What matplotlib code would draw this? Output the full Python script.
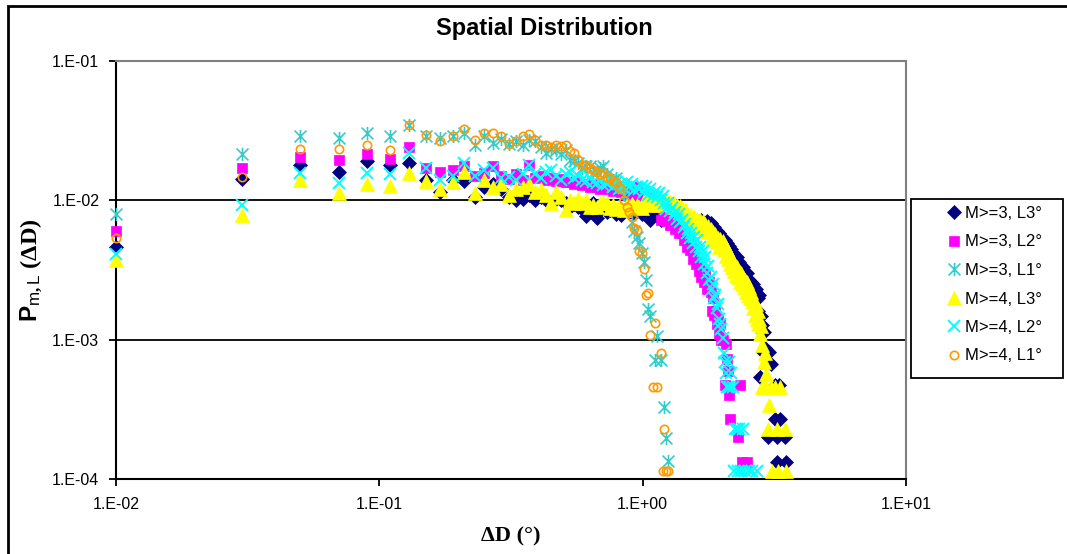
import numpy as np
import matplotlib
matplotlib.use("Agg")
import matplotlib.pyplot as plt
from matplotlib.path import Path
from matplotlib.patches import Rectangle
from matplotlib.ticker import FixedLocator, NullLocator

# P values in units of 1e-3.  "dense" lists hold one value per 0.02 deg bin,
# starting at the bin centred on 0.01 deg; the sparse tails are given as x / value pairs.
bin_start = 0.01
bin_width = 0.02

m3_l3 = [4.6, 14.3, 17.8, 16.1, 19.0, 17.9, 18.5, 14.0, 11.5, 14.0,
         13.8, 10.5, 12.5, 13.0, 12.0, 10.5, 10.0, 10.2, 11.0, 10.0,
         10.5, 10.0, 9.8, 10.2, 10.0, 9.5, 9.0, 9.4, 9.0, 8.6,
         7.7, 8.8, 9.6, 7.5, 8.5, 9.0, 8.2, 8.5, 8.5, 8.0,
         8.6, 7.9, 8.5, 8.5, 8.2, 8.8, 8.0, 8.4, 8.6, 8.0,
         8.4, 8.6, 8.0, 7.2, 8.2, 8.5, 7.8, 8.3, 7.2, 8.0,
         8.2, 7.6, 7.9, 8.1, 7.5, 7.8, 7.4, 7.7, 7.3, 7.6,
         7.2, 7.5, 7.0, 7.3, 6.9, 7.1, 6.8, 7.0, 6.6, 6.9,
         6.5, 6.9, 6.3, 7.2, 6.4, 6.8, 6.0, 7.1, 6.9, 6.3,
         6.9, 6.1, 5.6, 6.4, 5.4, 6.0, 5.1, 5.8, 4.9, 5.5,
         5.3, 4.6, 5.2, 4.4, 4.9, 4.1, 4.7, 4.2, 4.5, 3.8,
         4.2, 3.7, 4.0, 3.4, 3.9, 3.3, 3.6, 3.1, 3.4, 3.0,
         3.3, 2.8, 3.0, 2.6, 3.0, 2.5, 2.7, 2.3, 2.6, 2.2,
         2.4, 2.5, 2.3, 2.2, 2.3, 2.1, 2.0, 1.6, 2.1, 0.54]
m3_l3_tail_x = [2.81, 2.83, 2.85, 2.87, 2.89, 2.91, 2.95, 2.99, 3.03, 3.07,
                3.17, 3.19, 3.23, 3.25, 3.29, 3.31, 3.47, 3.51]
m3_l3_tail = [1.47, 1.13, 1.27, 0.82, 1.13, 0.87, 0.8, 0.2, 0.82, 0.67,
              0.47, 0.27, 0.2, 0.133, 0.47, 0.27, 0.2, 0.133]

m3_l2 = [6.05, 17.1, 20.4, 19.5, 21.5, 19.7, 24.3, 17.0, 16.0, 16.5,
         17.7, 15.0, 15.7, 17.7, 15.0, 14.3, 15.5, 14.0, 17.8, 14.5,
         15.0, 14.0, 14.5, 13.8, 14.3, 13.6, 13.5, 13.0, 13.5, 12.8,
         13.0, 12.5, 13.2, 12.5, 12.0, 12.6, 12.3, 12.0, 11.6, 12.0,
         11.8, 11.5, 11.6, 11.0, 11.3, 11.0, 11.1, 12.5, 10.6, 11.0,
         10.8, 10.5, 10.0, 10.2, 10.6, 9.6, 9.0, 9.3, 7.2, 8.6,
         8.0, 7.1, 7.8, 6.6, 7.0, 7.3, 6.2, 6.5, 5.8, 6.0,
         5.8, 5.2, 5.5, 4.6, 4.9, 4.4, 4.6, 3.8, 4.2, 3.5,
         3.6, 3.1, 3.3, 2.8, 3.0, 2.6, 2.9, 2.3, 2.4, 2.6,
         2.2, 1.6, 2.0, 1.5, 1.6, 1.3, 1.4, 1.1, 1.3, 1.0]
m3_l2_tail_x = [2.01, 2.05, 2.07, 2.09, 2.11, 2.13, 2.15, 2.31, 2.35, 2.39, 2.49]
m3_l2_tail = [1.0, 0.47, 0.93, 0.73, 0.6, 0.4, 0.27, 0.2, 0.47, 0.133, 0.133]

m3_l1 = [8.0, 21.5, 28.8, 28.0, 30.5, 29.0, 34.5, 29.0, 28.0, 29.0,
         30.5, 25.0, 29.0, 26.0, 27.5, 25.5, 26.5, 25.0, 27.0, 26.5,
         24.0, 22.0, 23.5, 23.0, 21.5, 23.0, 19.5, 19.2, 18.5, 17.0,
         17.5, 17.7, 15.6, 16.0, 17.0, 17.7, 15.5, 13.7, 14.0, 14.5,
         13.0, 12.5, 11.0, 9.5, 8.5, 7.0, 6.0, 5.5, 4.9, 4.2,
         3.6, 2.7, 1.66, 1.48]
m3_l1_tail_x = [1.11, 1.13, 1.17, 1.21, 1.23, 1.25]
m3_l1_tail = [0.71, 1.07, 0.71, 0.326, 0.196, 0.134]

m4_l3 = [3.75, 7.9, 13.9, 11.3, 13.1, 12.7, 15.8, 13.8, 12.0, 13.5,
         16.0, 11.3, 14.0, 12.5, 13.0, 11.0, 12.0, 12.5, 13.0, 11.5,
         12.0, 11.0, 9.6, 11.4, 10.5, 8.5, 10.0, 9.6, 10.2, 9.5,
         10.0, 9.0, 9.3, 9.0, 9.6, 9.8, 9.5, 8.8, 9.2, 8.6,
         9.0, 8.8, 8.5, 9.3, 9.0, 9.4, 8.9, 9.2, 9.0, 8.8,
         9.5, 10.6, 9.6, 9.8, 9.2, 9.6, 9.9, 9.8, 9.4, 9.7,
         9.6, 10.0, 9.5, 9.8, 9.3, 9.6, 9.0, 9.3, 8.8, 9.1,
         8.8, 8.1, 8.6, 7.6, 8.0, 7.3, 7.9, 7.2, 7.6, 6.9,
         7.4, 6.8, 7.2, 6.5, 7.1, 6.3, 6.8, 6.0, 6.5, 5.9,
         6.2, 5.5, 5.9, 5.2, 5.7, 5.0, 5.4, 4.6, 5.3, 4.9,
         5.1, 4.4, 4.8, 4.0, 4.5, 3.8, 4.2, 3.5, 3.9, 3.3,
         3.6, 3.1, 3.4, 2.9, 3.3, 2.8, 3.1, 2.6, 3.0, 2.5,
         2.8, 2.4, 2.7, 2.2, 2.6, 2.1, 2.4, 2.0, 2.2, 1.9,
         2.0, 1.7, 1.9, 1.5, 1.8, 1.4, 1.6, 1.3, 1.4, 1.1]
m4_l3_tail_x = [2.81, 2.83, 2.85, 2.87, 2.89, 2.91, 2.93, 2.95, 2.99, 3.03,
                3.07, 3.11, 3.19, 3.23, 3.27, 3.31, 3.47, 3.49]
m4_l3_tail = [1.25, 0.46, 0.92, 0.46, 0.69, 0.8, 0.46, 0.57, 0.23, 0.34,
              0.46, 0.115, 0.46, 0.23, 0.115, 0.46, 0.23, 0.115]

m4_l2 = [4.14, 9.2, 15.7, 13.3, 15.8, 15.5, 21.9, 17.0, 14.0, 15.0,
         18.5, 15.0, 16.5, 17.0, 14.5, 14.8, 14.0, 15.5, 17.8, 15.5,
         14.5, 16.0, 16.5, 15.0, 14.0, 15.5, 16.0, 14.5, 15.0, 14.0,
         13.8, 14.5, 13.5, 13.3, 14.0, 12.8, 13.0, 14.0, 12.5, 13.5,
         12.0, 13.0, 12.2, 13.5, 12.5, 13.2, 11.8, 12.5, 12.0, 12.6,
         11.5, 12.4, 11.0, 12.0, 10.8, 11.5, 10.5, 11.2, 10.0, 10.8,
         9.6, 8.6, 9.5, 8.4, 8.8, 7.9, 8.2, 7.3, 8.0, 7.0,
         7.2, 6.4, 6.8, 5.8, 6.2, 5.4, 5.8, 4.9, 5.5, 4.6,
         5.2, 4.3, 4.6, 3.9, 4.3, 3.5, 3.9, 3.0, 3.4, 2.7,
         2.8, 2.3, 2.5, 2.0, 2.1, 1.7, 1.8, 1.4, 1.3, 1.2]
m4_l2_tail_x = [2.01, 2.03, 2.05, 2.07, 2.09, 2.11, 2.13, 2.15, 2.17, 2.21,
                2.23, 2.25, 2.29, 2.31, 2.33, 2.37, 2.41, 2.45, 2.53, 2.61, 2.71]
m4_l2_tail = [1.03, 0.8, 0.69, 0.58, 0.46, 0.46, 0.69, 0.46, 0.58, 0.46,
              0.115, 0.23, 0.23, 0.115, 0.23, 0.115, 0.23, 0.115, 0.115, 0.115, 0.115]

m4_l1 = [5.4, 14.8, 23.2, 23.2, 25.0, 23.0, 34.5, 29.5, 26.8, 29.0,
         32.5, 27.0, 30.5, 30.5, 29.0, 25.5, 26.5, 29.0, 30.0, 27.0,
         25.0, 25.0, 24.0, 25.0, 24.5, 25.0, 22.5, 22.0, 19.5, 18.0,
         18.0, 17.0, 16.5, 16.0, 15.5, 15.6, 14.8, 14.5, 13.7, 13.5,
         12.5, 12.0, 10.0, 9.0, 8.2, 7.6, 6.3, 6.1, 4.3, 4.2,
         3.2, 2.1, 2.15]
m4_l1_tail_x = [1.07, 1.09, 1.11, 1.13, 1.17, 1.19, 1.21, 1.23, 1.25]
m4_l1_tail = [1.08, 0.46, 1.32, 0.46, 0.80, 0.115, 0.23, 0.115, 0.115]

labels = ["M>=3, L3°", "M>=3, L2°", "M>=3, L1°", "M>=4, L3°", "M>=4, L2°", "M>=4, L1°"]
x_ticks = [1e-2, 1e-1, 1e0, 1e1]
x_tick_labels = ["1.E-02", "1.E-01", "1.E+00", "1.E+01"]
y_ticks = [1e-4, 1e-3, 1e-2, 1e-1]
y_tick_labels = ["1.E-04", "1.E-03", "1.E-02", "1.E-01"]

plt.rcParams["font.family"] = ["Liberation Sans", "DejaVu Sans"]
plt.rcParams["mathtext.fontset"] = "custom"
plt.rcParams["mathtext.rm"] = "Liberation Serif:bold"
plt.rcParams["mathtext.bf"] = "Liberation Serif:bold"
plt.rcParams["mathtext.sf"] = "Liberation Sans:bold"
plt.rcParams["mathtext.it"] = "Liberation Sans"


def build(dense, tail_x, tail_y):
    x = bin_start + bin_width * np.arange(len(dense))
    x = np.concatenate([x, tail_x])
    y = np.concatenate([dense, tail_y]) * 1e-3
    return x, y


# Excel-like asterisk: vertical bar plus an X
star = Path([(0, -0.5), (0, 0.5), (-0.45, -0.45), (0.45, 0.45), (-0.45, 0.45), (0.45, -0.45)],
            [Path.MOVETO, Path.LINETO, Path.MOVETO, Path.LINETO, Path.MOVETO, Path.LINETO])

styles = [
    dict(marker="D", ms=7.0, color="#000080", mec="#000080", mew=0.5),
    dict(marker="s", ms=7.4, color="#FF00FF", mec="#FF00FF", mew=0.5),
    dict(marker=star, ms=9.5, color="#33CCCC", mec="#33CCCC", mew=1.2),
    dict(marker="^", ms=9.6, color="#FFFF00", mec="#FFFF00", mew=0.5),
    dict(marker="x", ms=8.2, color="#00FFFF", mec="#00FFFF", mew=1.4),
    dict(marker="o", ms=6.0, color="#FF9900", mec="#FF9900", mfc="none", mew=1.2),
]
data = [
    build(m3_l3, m3_l3_tail_x, m3_l3_tail),
    build(m3_l2, m3_l2_tail_x, m3_l2_tail),
    build(m3_l1, m3_l1_tail_x, m3_l1_tail),
    build(m4_l3, m4_l3_tail_x, m4_l3_tail),
    build(m4_l2, m4_l2_tail_x, m4_l2_tail),
    build(m4_l1, m4_l1_tail_x, m4_l1_tail),
]

W, H = 1067, 554
fig = plt.figure(figsize=(W / 100, H / 100), dpi=100)
ax = fig.add_axes([116 / W, 1 - 479 / H, 790 / W, 418 / H])
ax.set_xscale("log")
ax.set_yscale("log")

for y in [1e-2, 1e-3]:
    ax.axhline(y, color="black", lw=1.3, zorder=1)

handles = []
for (x, y), st in zip(data, styles):
    h, = ax.plot(x, y, ls="none", zorder=3, clip_on=False, **st)
    handles.append(h)

ax.set_xlim(1e-2, 1e1)
ax.set_ylim(1e-4, 1e-1)
ax.xaxis.set_major_locator(FixedLocator(x_ticks))
ax.xaxis.set_minor_locator(NullLocator())
ax.yaxis.set_major_locator(FixedLocator(y_ticks))
ax.yaxis.set_minor_locator(NullLocator())
ax.set_xticklabels(x_tick_labels)
ax.set_yticklabels(y_tick_labels)
ax.tick_params(direction="out", length=5, width=1.3, labelsize=11.5, color="black")
ax.tick_params(axis="y", pad=7)
ax.tick_params(axis="x", pad=8)

for s in ["left", "bottom"]:
    ax.spines[s].set_color("black")
    ax.spines[s].set_linewidth(1.5)
for s in ["top", "right"]:
    ax.spines[s].set_color("#808080")
    ax.spines[s].set_linewidth(1.5)

fig.text(544 / W, 1 - 28 / H, "Spatial Distribution", ha="center", va="center",
         fontsize=17, fontweight="bold")
fig.text(31 / W, 1 - 270 / H, r"$\mathsf{P}_{\mathit{m,L}}$ (ΔD)", rotation=90,
         ha="center", va="center", fontsize=17.5, fontweight="bold",
         family=["Liberation Serif", "DejaVu Serif"])
fig.text(511 / W, 1 - 536 / H, "ΔD (°)", ha="center", va="center", fontsize=16,
         fontweight="bold", family=["Liberation Serif", "DejaVu Serif"])

# legend box
fig.add_artist(Rectangle((911 / W, 1 - 378 / H), 152 / W, 179 / H, transform=fig.transFigure,
                         fill=False, edgecolor="black", lw=1.3))
fig.legend(handles, labels, loc="upper left", bbox_to_anchor=(947 / W, 1 - 206 / H),
           frameon=False, fontsize=12, handlelength=0.8, handletextpad=0.3,
           labelspacing=0.81, borderpad=0, borderaxespad=0, numpoints=1)

# outer chart border
fig.add_artist(Rectangle((8 / W, -0.1), 1.2, (H - 6) / H + 0.1, transform=fig.transFigure,
                         fill=False, edgecolor="black", lw=2))

fig.savefig("out.png", dpi=100)
